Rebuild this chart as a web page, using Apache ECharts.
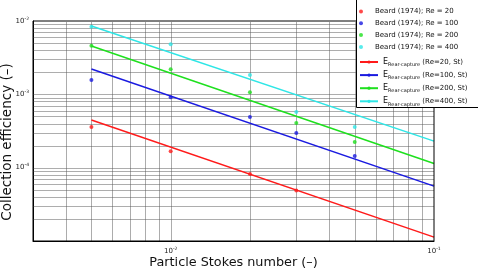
<!DOCTYPE html>
<html><head><meta charset="utf-8">
<script src="https://cdn.jsdelivr.net/npm/echarts@6/dist/echarts.min.js"></script>
<style>html,body{margin:0;padding:0;background:#fff}#c{width:478px;height:270px}</style>
</head><body><div id="c"></div>
<script>
// Data
const beardSt = [0.005, 0.01, 0.02, 0.03, 0.05];
const beardRe20 = [3.58e-4, 1.68e-4, 8.2e-5, 4.9e-5, null];
const beardRe100 = [1.57e-3, 9.1e-4, 4.9e-4, 2.96e-4, 1.44e-4];
const beardRe200 = [4.6e-3, 2.19e-3, 1.07e-3, 4.06e-4, 2.23e-4];
const beardRe400 = [8.36e-3, 4.81e-3, 1.83e-3, 5.74e-4, 3.58e-4];
const modelSt = [0.005, 0.1];
const modelRe20 = [4.46e-4, 1.13e-5];
const modelRe100 = [2.21e-3, 5.6e-5];
const modelRe200 = [4.56e-3, 1.14e-4];
const modelRe400 = [8.55e-3, 2.3e-4];
const xGridVals = [0.004,0.005,0.006,0.007,0.008,0.009,0.01,0.02,0.03,0.04,0.05,0.06,0.07,0.08,0.09];
const yGridVals = [2e-5,3e-5,4e-5,5e-5,6e-5,7e-5,8e-5,9e-5,1e-4,2e-4,3e-4,4e-4,5e-4,6e-4,7e-4,8e-4,9e-4,1e-3,2e-3,3e-3,4e-3,5e-3,6e-3,7e-3,8e-3,9e-3];
const reLabels = ['20','100','200','400'];
const colors = ['#ff1a1a','#1a1ae0','#1ee01e','#2ee6e6'];

const X0 = 0.003, X1 = 0.1, Y0 = 1e-5, Y1 = 1e-2;
const pair = (xs, ys) => xs.map((x,i)=>[x, ys[i]]).filter(p=>p[1]!=null);
const FONT = 'DejaVu Sans';
const gridColor = '#5a5a5a';

const beardNames = reLabels.map(r=>'Beard (1974); Re = '+r);
const modelNames = reLabels.map(r=>'ERC (Re='+r+', St)');
const beardData = [beardRe20, beardRe100, beardRe200, beardRe400];
const modelData = [modelRe20, modelRe100, modelRe200, modelRe400];

const series = [];
const gridData = xGridVals.map(v=>[v, Y0, 0]).concat(yGridVals.map(v=>[X0, v, 1]));
series.push({
  type:'custom', silent:true, z:1, data:gridData, clip:true,
  renderItem:(params, api)=>{
    const isY = api.value(2) === 1;
    let p1, p2;
    if (!isY) { p1 = api.coord([api.value(0), Y0]); p2 = api.coord([api.value(0), Y1]); }
    else { p1 = api.coord([X0, api.value(1)]); p2 = api.coord([X1, api.value(1)]); }
    return {type:'line', shape:{x1:Math.round(p1[0])+0.5, y1:Math.round(p1[1])+0.5, x2:Math.round(p2[0])+0.5, y2:Math.round(p2[1])+0.5},
      style:{stroke:gridColor, lineWidth:1, lineDash:[1,1]}};
  }
});
beardData.forEach((d,i)=>series.push({
  name:beardNames[i], type:'scatter', data:pair(beardSt,d), symbol:'circle', symbolSize:4,
  itemStyle:{color:colors[i]}, z:3
}));
modelData.forEach((d,i)=>series.push({
  name:modelNames[i], type:'line', data:pair(modelSt,d), symbol:'none',
  lineStyle:{color:colors[i], width:1.5}, itemStyle:{color:colors[i]}, z:2
}));

const sup = v => '{b|10}{s|' + Math.round(Math.log10(v)) + '}';
const rich = {b:{fontSize:7, fontFamily:FONT, color:'#222'}, s:{fontSize:4.5, fontFamily:FONT, color:'#222', verticalAlign:'top', padding:[0,0,5,0]}};
const legendText = {fontFamily:FONT, fontSize:7, color:'#111',
  rich:{e:{fontFamily:FONT, fontSize:8, color:'#111'}, sub:{fontFamily:FONT, fontSize:5, color:'#111', verticalAlign:'bottom', padding:[6,0,0,0]}, t:{fontFamily:FONT, fontSize:7, color:'#111'}}};

const chart = echarts.init(document.getElementById('c'), null, {renderer:'canvas'});
chart.setOption({
  animation:false,
  backgroundColor:'#fff',
  grid:{left:33, top:21, right:44, bottom:29, containLabel:false, outerBoundsMode:'none', show:true, borderColor:'#000', borderWidth:1, backgroundColor:'transparent', z:4},
  xAxis:{type:'log', logBase:10, min:X0, max:X1,
    name:'Particle Stokes number (–)', nameLocation:'middle', nameGap:15, nameMoveOverlap:false,
    nameTextStyle:{fontFamily:FONT, fontSize:12.8, color:'#111'},
    axisLine:{show:true, lineStyle:{color:'#000'}}, axisTick:{show:false},
    axisLabel:{formatter:v=>sup(v), rich:rich, margin:5, showMinLabel:false},
    splitLine:{show:false}},
  yAxis:{type:'log', logBase:10, min:Y0, max:Y1,
    name:'Collection efficiency (–)', nameLocation:'middle', nameGap:19, nameMoveOverlap:false,
    nameTextStyle:{fontFamily:FONT, fontSize:13.5, color:'#111', padding:[0,22,0,0]},
    axisLine:{show:true, lineStyle:{color:'#000'}}, axisTick:{show:false},
    axisLabel:{formatter:v=>sup(v), rich:rich, margin:4, showMinLabel:false},
    splitLine:{show:false}},
  graphic:[{type:'rect', left:356, top:-2, z:9, shape:{width:140, height:109}, style:{fill:'#fff', stroke:'#000', lineWidth:1}}],
  legend:[{
    orient:'vertical', left:356, top:-3, itemGap:4.8, itemWidth:18, itemHeight:4,
    padding:[11,14,0,3], z:10,
    data: beardNames.map(n=>({name:n, icon:'circle'})),
    textStyle:legendText
  },{
    orient:'vertical', left:356, top:58, itemGap:3.6, itemWidth:18, itemHeight:4,
    padding:[0,14,0,3], z:10,
    data: modelNames.map(n=>({name:n})),
    textStyle:legendText,
    formatter: n => '{e|E}{sub|Rear-capture} {t|' + n.slice(4) + '}'
  }],
  series:series
});
</script></body></html>
